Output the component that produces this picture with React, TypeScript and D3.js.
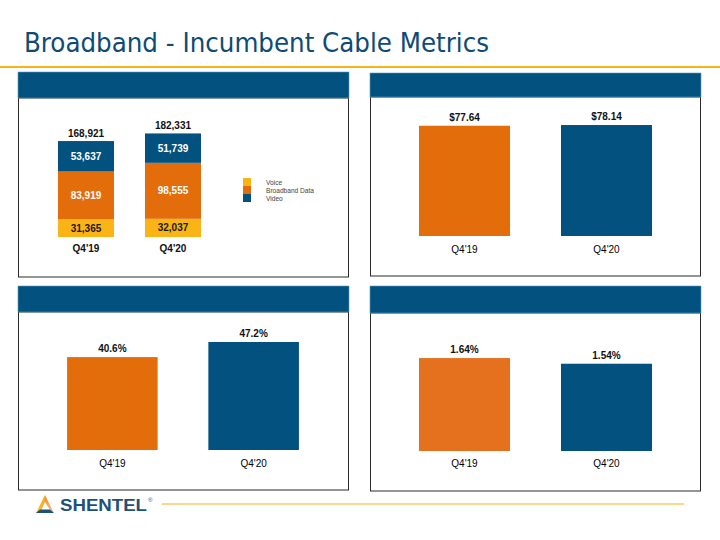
import * as d3 from 'd3'

const WIDTH = 720
const HEIGHT = 540

const BLUE = '#02517e'
const ORANGE = '#e36c0b'
const YELLOW = '#fbb415'
const FONT = '"Liberation Sans", Arial, sans-serif'

// data
const quarters = ["Q4'19", "Q4'20"]
const voice = [31365, 32037]
const broadbandData = [83919, 98555]
const video = [53637, 51739]
const seriesNames = ['Voice', 'Broadband Data', 'Video']
const seriesColors = [YELLOW, ORANGE, BLUE]
const seriesLabelColors = ['#1a1a1a', '#ffffff', '#ffffff']

const arpu = [77.64, 78.14]
const penetration = [40.6, 47.2]
const churn = [1.64, 1.54]

const fmtInt = d3.format(',')

type Box = { x0: number; x1: number; top: number; headerBottom: number; bottom: number }

function Panel({ box }: { box: Box }) {
  return (
    <g>
      <rect
        x={box.x0 + 0.5}
        y={box.headerBottom}
        width={box.x1 - box.x0}
        height={box.bottom - box.headerBottom}
        fill="#fff"
        stroke="#2a2a2a"
        strokeWidth={1}
      />
      <rect
        x={box.x0}
        y={box.top}
        width={box.x1 - box.x0 + 1}
        height={box.headerBottom - box.top}
        fill={BLUE}
        stroke="#5b9bc8"
        strokeWidth={0.6}
      />
    </g>
  )
}

interface SimpleBarProps {
  box: Box
  values: number[]
  colors: string[]
  xRange: [number, number]
  yDomainMax: number
  baseY: number
  topY: number
  fmt: (v: number) => string
  catY: number
}

function SimpleBarPanel({ box, values, colors, xRange, yDomainMax, baseY, topY, fmt, catY }: SimpleBarProps) {
  const x = d3.scaleBand<string>().domain(quarters).range(xRange).paddingInner(0.359).paddingOuter(0.3)
  const y = d3.scaleLinear().domain([0, yDomainMax]).range([baseY, topY])
  return (
    <g>
      <Panel box={box} />
      {quarters.map((q, i) => (
        <g key={q}>
          <rect
            x={x(q)}
            y={y(values[i])}
            width={x.bandwidth()}
            height={baseY - y(values[i])}
            fill={colors[i]}
          />
          <text
            x={x(q)! + x.bandwidth() / 2}
            y={y(values[i]) - 5}
            textAnchor="middle"
            fontFamily={FONT}
            fontWeight="bold"
            fontSize={10}
            fill="#111"
          >
            {fmt(values[i])}
          </text>
          <text
            x={x(q)! + x.bandwidth() / 2}
            y={catY}
            textAnchor="middle"
            fontFamily={FONT}
            fontSize={10}
            fill="#000"
          >
            {q}
          </text>
        </g>
      ))}
    </g>
  )
}

function StackedPanel({ box }: { box: Box }) {
  const rows = quarters.map((q, i) => ({ q, Voice: voice[i], 'Broadband Data': broadbandData[i], Video: video[i] }))
  const stack = d3.stack<any>().keys(seriesNames)(rows)
  const x = d3.scaleBand<string>().domain(quarters).range([40.6, 218.4]).paddingInner(0.356).paddingOuter(0.2)
  const y = d3.scaleLinear().domain([0, 200000]).range([237, 123.4])
  const totals = rows.map((r, i) => voice[i] + broadbandData[i] + video[i])
  const legendY = d3.scaleBand<string>().domain(seriesNames).range([178, 202])
  return (
    <g>
      <Panel box={box} />
      {stack.map((layer, si) => (
        <g key={layer.key}>
          {layer.map((d, i) => {
            const cx = x(quarters[i])! + x.bandwidth() / 2
            return (
              <g key={i}>
                <rect
                  x={x(quarters[i])}
                  y={y(d[1])}
                  width={x.bandwidth()}
                  height={y(d[0]) - y(d[1])}
                  fill={seriesColors[si]}
                />
                <text
                  x={cx}
                  y={(y(d[0]) + y(d[1])) / 2 + 3.5}
                  textAnchor="middle"
                  fontFamily={FONT}
                  fontWeight="bold"
                  fontSize={10}
                  fill={seriesLabelColors[si]}
                >
                  {fmtInt(d[1] - d[0])}
                </text>
              </g>
            )
          })}
        </g>
      ))}
      {quarters.map((q, i) => (
        <g key={q}>
          <text
            x={x(q)! + x.bandwidth() / 2}
            y={y(totals[i]) - 4}
            textAnchor="middle"
            fontFamily={FONT}
            fontWeight="bold"
            fontSize={10}
            fill="#111"
          >
            {fmtInt(totals[i])}
          </text>
          <text
            x={x(q)! + x.bandwidth() / 2}
            y={252}
            textAnchor="middle"
            fontFamily={FONT}
            fontWeight="bold"
            fontSize={10}
            fill="#111"
          >
            {q}
          </text>
        </g>
      ))}
      {seriesNames.map((s, i) => (
        <g key={s}>
          <rect x={243} y={legendY(s)} width={8} height={legendY.bandwidth()} fill={seriesColors[i]} />
          <text
            x={266}
            y={legendY(s)! + legendY.bandwidth() / 2 + 2.5}
            fontFamily={FONT}
            fontSize={6.6}
            fill="#444"
          >
            {s}
          </text>
        </g>
      ))}
    </g>
  )
}

function Logo() {
  return (
    <g>
      <defs>
        <linearGradient id="triL" x1="0" y1="0" x2="0" y2="1">
          <stop offset="0" stopColor="#f7a21b" />
          <stop offset="1" stopColor="#f4c430" />
        </linearGradient>
        <linearGradient id="triR" x1="0" y1="0" x2="1" y2="1">
          <stop offset="0" stopColor="#f08a2a" />
          <stop offset="1" stopColor="#f6c9a4" />
        </linearGradient>
      </defs>
      <polygon points="45,495 36,513 40,513 45,502" fill="url(#triL)" />
      <polygon points="45,495 45,502 50,510 54,513" fill="url(#triR)" />
      <polygon points="36,513 54,513 50,509.5 40,509.5" fill="#1d5179" />
      <text
        x={60}
        y={511}
        fontFamily={FONT}
        fontWeight="bold"
        fontSize={17}
        fill="#1d5179"
        textLength={87}
        lengthAdjust="spacingAndGlyphs"
      >
        SHENTEL
      </text>
      <text x={148} y={502} fontFamily={FONT} fontSize={6} fill="#1d5179">
        ®
      </text>
      <line x1={162} x2={684} y1={504} y2={504} stroke="#fdd68a" strokeWidth={2} />
    </g>
  )
}

export default function App() {
  return (
    <svg
      width={WIDTH}
      height={HEIGHT}
      viewBox={`0 0 ${WIDTH} ${HEIGHT}`}
      style={{ position: 'absolute', left: 0, top: 0, background: '#fff' }}
    >
      <rect width={WIDTH} height={HEIGHT} fill="#fff" />
      <text
        x={24}
        y={52}
        fontFamily='"DejaVu Sans Condensed", "DejaVu Sans", sans-serif'
        fontSize={27}
        fill="#0e4b75"
        textLength={465}
        lengthAdjust="spacingAndGlyphs"
      >
        Broadband - Incumbent Cable Metrics
      </text>
      <line x1={0} x2={WIDTH} y1={67} y2={67} stroke="#f6b41a" strokeWidth={2} />

      <StackedPanel box={{ x0: 18, x1: 348, top: 72, headerBottom: 98, bottom: 277 }} />
      <SimpleBarPanel
        box={{ x0: 370, x1: 700, top: 73, headerBottom: 97, bottom: 276 }}
        values={arpu}
        colors={[ORANGE, BLUE]}
        xRange={[376.4, 694.6]}
        yDomainMax={80}
        baseY={236}
        topY={236 - 113.6}
        fmt={(v) => '$' + d3.format('.2f')(v)}
        catY={253}
      />
      <SimpleBarPanel
        box={{ x0: 18, x1: 348, top: 286, headerBottom: 312, bottom: 490 }}
        values={penetration}
        colors={[ORANGE, BLUE]}
        xRange={[24.7, 341.3]}
        yDomainMax={50}
        baseY={450}
        topY={450 - 114.4}
        fmt={(v) => d3.format('.1f')(v) + '%'}
        catY={467}
      />
      <SimpleBarPanel
        box={{ x0: 370, x1: 700, top: 286, headerBottom: 313, bottom: 491 }}
        values={churn}
        colors={['#e5711f', BLUE]}
        xRange={[376.4, 694.6]}
        yDomainMax={1.8}
        baseY={451}
        topY={451 - 102}
        fmt={(v) => d3.format('.2f')(v) + '%'}
        catY={467}
      />
      <Logo />
    </svg>
  )
}
